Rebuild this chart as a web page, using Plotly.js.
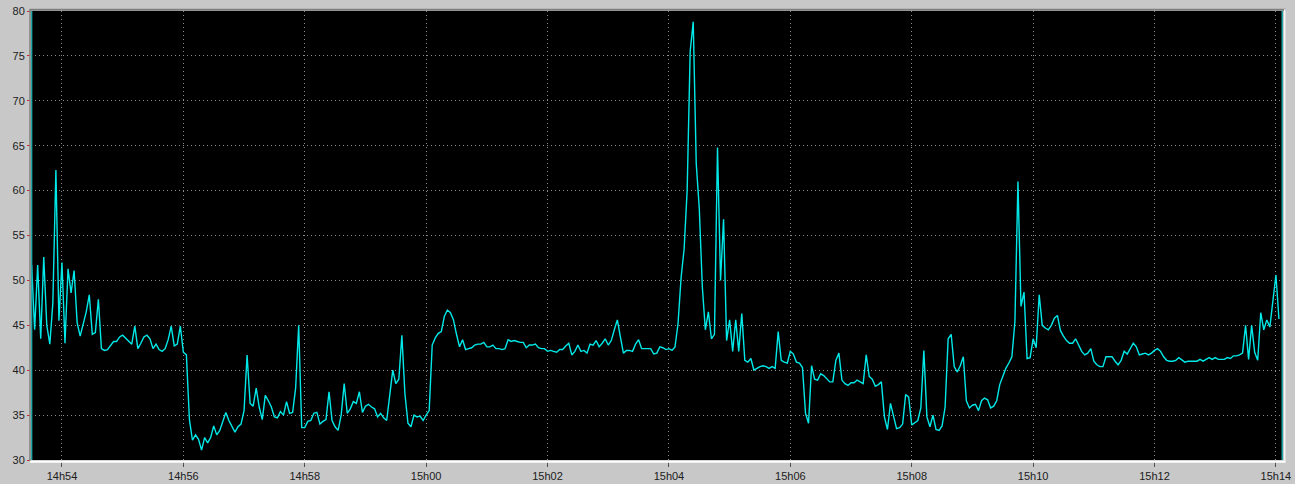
<!DOCTYPE html>
<html>
<head>
<meta charset="utf-8">
<script src="https://cdn.plot.ly/plotly-3.0.1.min.js"></script>
<style>
  html, body { margin: 0; padding: 0; background: #c8c8c8; }
  #chart { width: 1295px; height: 484px; }
</style>
</head>
<body>
<div id="chart"></div>
<script>
// ---- data ----
const sampleDate = '2000-01-01';
const startClock = '14:53:30';   // first sample
const sampleSeconds = 3;         // sampling interval

const values = [
  51.7, 44.5, 51.7, 43.5, 52.6, 45.0, 42.9, 47.5, 62.3, 45.5,
  52.0, 43.0, 51.3, 48.6, 51.1, 45.3, 43.8, 45.0, 46.5, 48.4,
  44.0, 44.2, 47.9, 42.4, 42.2, 42.3, 42.7, 43.2, 43.2, 43.7,
  43.9, 43.6, 43.2, 42.9, 44.9, 42.4, 43.0, 43.7, 43.9, 43.5,
  42.4, 42.9, 42.3, 42.1, 42.4, 43.4, 44.9, 42.7, 42.9, 44.9,
  42.0, 41.7, 34.5, 32.2, 32.8, 32.3, 31.1, 32.5, 31.9, 32.5,
  33.8, 32.8, 33.3, 34.3, 35.3, 34.4, 33.8, 33.1, 33.7, 34.0,
  35.5, 41.7, 36.3, 36.0, 38.0, 35.9, 34.5, 37.2, 36.6, 35.9,
  34.8, 34.7, 35.4, 35.0, 36.5, 35.2, 35.3, 38.0, 45.0, 33.6,
  33.6, 34.3, 34.4, 35.2, 35.3, 34.0, 34.3, 34.5, 37.6, 34.4,
  33.7, 33.3, 35.0, 38.5, 35.2, 35.7, 36.5, 36.3, 37.6, 35.3,
  36.0, 36.2, 35.9, 35.7, 34.8, 35.2, 34.7, 34.4, 37.2, 40.0,
  38.5, 39.0, 43.9, 37.4, 34.1, 33.7, 35.0, 34.8, 34.9, 34.4,
  35.0, 35.5, 42.8, 43.6, 44.1, 44.3, 46.0, 46.7, 46.4, 45.6,
  44.0, 42.6, 43.4, 42.3, 42.4, 42.5, 42.8, 42.9, 42.9, 43.1,
  42.6, 42.6, 42.8, 42.4, 42.4, 42.3, 42.4, 43.4, 43.2, 43.3,
  43.2, 43.1, 43.1, 42.5, 42.8, 42.8, 42.9, 42.5, 42.4, 42.4,
  42.1, 42.2, 42.1, 42.0, 42.3, 42.3, 42.7, 43.0, 41.7, 42.1,
  42.8, 42.1, 42.2, 41.9, 42.9, 42.8, 43.3, 42.6, 43.0, 43.5,
  42.8, 43.3, 44.5, 45.6, 43.7, 41.9, 42.2, 42.2, 42.1, 42.9,
  43.4, 42.4, 42.4, 42.4, 42.4, 41.8, 41.9, 42.6, 42.5, 42.3,
  42.4, 42.2, 42.6, 45.2, 50.3, 53.5, 60.0, 75.5, 78.8, 63.0,
  58.0, 49.3, 44.5, 46.5, 43.5, 44.0, 64.8, 50.0, 56.8, 43.3,
  45.6, 42.1, 45.6, 42.1, 46.3, 41.1, 40.9, 41.3, 40.0, 40.2,
  40.4, 40.5, 40.4, 40.2, 40.4, 40.2, 44.3, 41.1, 40.9, 40.8,
  42.1, 41.8, 40.9, 40.8, 40.3, 35.2, 34.1, 40.5, 39.0, 38.9,
  39.6, 39.4, 39.0, 38.7, 38.7, 41.1, 41.9, 38.9, 38.5, 38.3,
  38.6, 38.6, 38.9, 38.7, 38.5, 41.7, 39.3, 39.0, 38.2, 38.4,
  38.7, 34.8, 33.4, 36.3, 34.8, 33.5, 33.6, 34.0, 37.3, 37.0,
  33.9, 34.2, 34.4, 35.8, 42.2, 34.8, 33.7, 35.0, 33.4, 33.3,
  33.8, 35.9, 43.5, 44.0, 40.4, 39.8, 40.5, 41.5, 36.6, 35.8,
  36.1, 36.2, 35.5, 36.6, 36.9, 36.7, 35.8, 36.0, 36.6, 38.4,
  39.4, 40.2, 40.8, 41.5, 45.4, 61.0, 47.1, 48.7, 41.3, 41.4,
  43.5, 42.5, 48.4, 45.0, 44.7, 44.5, 45.0, 45.8, 46.1, 44.4,
  43.8, 43.3, 43.0, 43.0, 43.5, 42.7, 42.1, 41.7, 41.9, 42.4,
  41.0, 40.6, 40.4, 40.4, 41.5, 41.5, 41.5, 41.0, 40.6, 41.1,
  42.1, 41.8, 42.4, 43.0, 42.6, 41.7, 41.8, 41.9, 41.7, 41.9,
  42.2, 42.4, 42.1, 41.5, 41.1, 41.0, 41.0, 41.1, 41.4, 41.1,
  40.9, 41.0, 41.0, 41.0, 41.0, 41.2, 41.0, 41.2, 41.4, 41.2,
  41.4, 41.2, 41.2, 41.2, 41.4, 41.3, 41.6, 41.6, 41.7, 41.9,
  45.0, 41.2, 45.0, 42.0, 41.1, 46.4, 44.5, 45.6, 44.8, 48.0,
  50.6, 45.7
];

const timeLabels = ['14h54', '14h56', '14h58', '15h00', '15h02', '15h04',
                    '15h06', '15h08', '15h10', '15h12', '15h14'];
const yRange = [30, 80];
const viewStart = '14:53:29.4';
const viewEnd = '15:14:07';

// ---- build time axis ----
function clockToSec(c) {
  const p = c.split(':').map(Number);
  return p[0] * 3600 + p[1] * 60 + (p[2] || 0);
}
function secToStamp(s) {
  const h = Math.floor(s / 3600), m = Math.floor((s % 3600) / 60), sec = s % 60;
  const pad = n => String(n).padStart(2, '0');
  return sampleDate + ' ' + pad(h) + ':' + pad(m) + ':' + pad(sec);
}
const t0 = clockToSec(startClock);
const times = values.map((_, i) => secToStamp(t0 + i * sampleSeconds));
const tickVals = timeLabels.map(l => sampleDate + ' ' + l.replace('h', ':') + ':00');

const trace = {
  x: times, y: values, type: 'scatter', mode: 'lines',
  line: { color: '#00e8e8', width: 1.4 },
  hoverinfo: 'skip'
};

const font = { family: 'Liberation Sans, Arial, sans-serif', size: 11, color: '#202020' };

const layout = {
  width: 1295, height: 484,
  margin: { l: 31, r: 12, t: 11, b: 24 },
  paper_bgcolor: '#c8c8c8',
  plot_bgcolor: '#000000',
  showlegend: false,
  font: font,
  xaxis: {
    type: 'date',
    range: [sampleDate + ' ' + viewStart, sampleDate + ' ' + viewEnd],
    tickmode: 'array', tickvals: tickVals, ticktext: timeLabels,
    ticks: 'outside', ticklen: 6, tickcolor: '#505050', tickwidth: 1,
    showgrid: true, gridcolor: '#8c8c8c', griddash: '1px,3px', gridwidth: 1,
    zeroline: false, showline: false, tickfont: font, fixedrange: true
  },
  yaxis: {
    range: yRange, dtick: 5, tick0: 30,
    ticks: 'outside', ticklen: 3, tickcolor: '#c83030', tickwidth: 1,
    showgrid: true, gridcolor: '#8c8c8c', griddash: '1px,3px', gridwidth: 1,
    zeroline: false, showline: false, tickfont: font, fixedrange: true
  },
  shapes: [
    // cursor lines at the first sample and at the right edge
    { type: 'line', xref: 'x', yref: 'paper', x0: times[0], x1: times[0], y0: 0, y1: 1,
      line: { color: '#20a8a8', width: 1.5 }, layer: 'above' },
    { type: 'line', xref: 'paper', yref: 'paper', x0: 0.9994, x1: 0.9994, y0: 0, y1: 1,
      line: { color: '#20a8a8', width: 1.5 }, layer: 'above' },
    // sunken frame
    { type: 'line', xref: 'paper', yref: 'paper', x0: -0.001, x1: 1.002, y0: 1.003, y1: 1.003,
      line: { color: '#808080', width: 2 }, layer: 'above' },
    { type: 'line', xref: 'paper', yref: 'paper', x0: -0.0008, x1: -0.0008, y0: -0.004, y1: 1.004,
      line: { color: '#808080', width: 1.5 }, layer: 'above' },
    { type: 'line', xref: 'paper', yref: 'paper', x0: -0.001, x1: 1.002, y0: -0.004, y1: -0.004,
      line: { color: '#ffffff', width: 2 }, layer: 'above' },
    { type: 'line', xref: 'paper', yref: 'paper', x0: 1.0014, x1: 1.0014, y0: -0.004, y1: 1.004,
      line: { color: '#f4f4f4', width: 1.5 }, layer: 'above' }
  ]
};

Plotly.newPlot('chart', [trace], layout, { displayModeBar: false, staticPlot: true });
</script>
</body>
</html>
